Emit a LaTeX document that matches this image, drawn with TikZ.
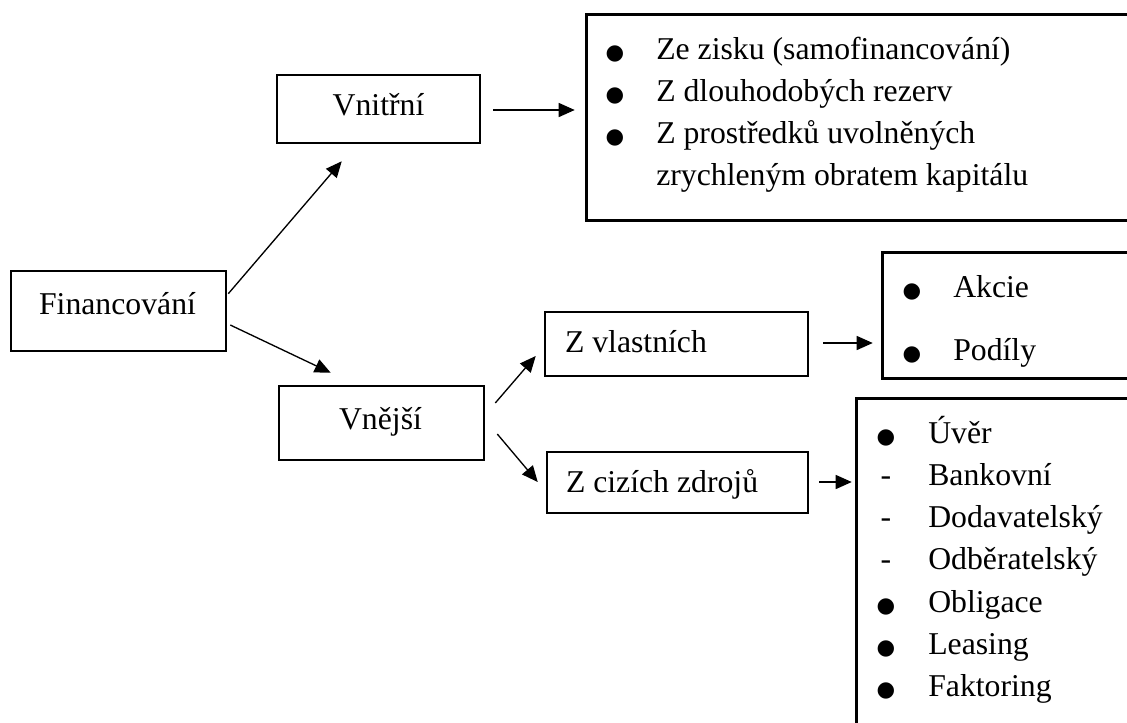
\documentclass[tikz,border=0pt]{standalone}
\usepackage{fontspec}
\setmainfont{Liberation Serif}
\newfontfamily\dvsans{DejaVu Sans}
\usetikzlibrary{arrows.meta}
\newlength\px \setlength\px{0.75pt}
\begin{document}
\begin{tikzpicture}[x=0.75pt,y=-0.75pt,
  box/.style={draw, line width=1.9pt, rectangle, inner sep=0pt},
  openbox/.style={rectangle, inner sep=0pt},
  openline/.style={line width=1.9pt},
  lbl/.style={inner sep=0pt, font=\fontsize{23.8pt}{28pt}\selectfont},
  bul/.style={inner sep=0pt, anchor=base, font=\dvsans\fontsize{16pt}{18pt}\selectfont},
  arr/.style={line width=1pt, -{Triangle[length=12pt,width=10.5pt]}},
]
\useasboundingbox (0,0) rectangle (1127,722);

% main boxes
\node[box, minimum width=215\px, minimum height=80\px] (fin) at (118.5,311) {};
\node[box, minimum width=203\px, minimum height=68\px] (vnitrni) at (378.5,109) {};
\node[box, minimum width=205\px, minimum height=74\px] (vnejsi) at (381.5,423) {};
\node[box, minimum width=263\px, minimum height=64\px] (vlastni) at (676.5,344) {};
\node[box, minimum width=261\px, minimum height=61\px] (cizi) at (677.5,482.5) {};

% open boxes on the right
\node[openbox, minimum width=545\px, minimum height=205\px] (listA) at (859.5,117.5) {};
\node[openbox, minimum width=249\px, minimum height=125\px] (listB) at (1007.5,315.5) {};
\node[openbox, minimum width=275\px, minimum height=331\px] (listC) at (994.5,564.5) {};
\draw[openline] (listA.north east) -- (listA.north west) -- (listA.south west) -- (listA.south east);
\draw[openline] (listB.north east) -- (listB.north west) -- (listB.south west) -- (listB.south east);
\draw[openline] (listC.north east) -- (listC.north west) -- (listC.south west);

% box labels
\node[lbl, anchor=base] (finT) at ([shift={(-1,3)}]fin.center) {Financování};
\node[lbl, anchor=base] (vnitrniT) at ([shift={(0,6)}]vnitrni.center) {Vnitřní};
\node[lbl, anchor=base] (vnejsiT) at ([shift={(-1,6)}]vnejsi.center) {Vnější};
\node[lbl, anchor=base west] (vlastniT) at ([shift={(21,8)}]vlastni.west) {Z vlastních};
\node[lbl, anchor=base west] (ciziT) at ([shift={(20,9.5)}]cizi.west) {Z cizích zdrojů};

% list A
\node[bul] (a1b) at (615,59) {●};
\node[lbl, anchor=base west] (a1) at (656,59) {Ze zisku (samofinancování)};
\node[bul] (a2b) at (615,101) {●};
\node[lbl, anchor=base west] (a2) at (656,101) {Z dlouhodobých rezerv};
\node[bul] (a3b) at (615,143) {●};
\node[lbl, anchor=base west] (a3) at (656,143) {Z prostředků uvolněných};
\node[lbl, anchor=base west] (a4) at (656,185) {zrychleným obratem kapitálu};

% list B
\node[bul] (b1b) at (912,297) {●};
\node[lbl, anchor=base west] (b1) at (953,297) {Akcie};
\node[bul] (b2b) at (912,360) {●};
\node[lbl, anchor=base west] (b2) at (953,360) {Podíly};

% list C
\node[bul] (c1b) at (886,443) {●};
\node[lbl, anchor=base west] (c1) at (928,443) {Úvěr};
\node[lbl, anchor=base] (c2b) at (886,485.3) {-};
\node[lbl, anchor=base west] (c2) at (928,485.3) {Bankovní};
\node[lbl, anchor=base] (c3b) at (886,527.6) {-};
\node[lbl, anchor=base west] (c3) at (928,527.6) {Dodavatelský};
\node[lbl, anchor=base] (c4b) at (886,569.9) {-};
\node[lbl, anchor=base west] (c4) at (928,569.9) {Odběratelský};
\node[bul] (c5b) at (886,612.2) {●};
\node[lbl, anchor=base west] (c5) at (928,612.2) {Obligace};
\node[bul] (c6b) at (886,654.5) {●};
\node[lbl, anchor=base west] (c6) at (928,654.5) {Leasing};
\node[bul] (c7b) at (886,696.8) {●};
\node[lbl, anchor=base west] (c7) at (928,696.8) {Faktoring};

% connectors
\draw[arr] ([shift={(1,24)}]fin.north east) -- ([shift={(66,17)}]vnitrni.south west);
\draw[arr] ([shift={(3,14)}]fin.east) -- ([shift={(53,-12)}]vnejsi.north west);
\draw[arr] ([shift={(12,1)}]vnitrni.east) -- ([shift={(-12,-7.5)}]listA.west);
\draw[arr] ([shift={(10,-20)}]vnejsi.east) -- ([shift={(-8,12)}]vlastni.west);
\draw[arr] ([shift={(12,11)}]vnejsi.east) -- ([shift={(-8,-0.5)}]cizi.west);
\draw[arr] ([shift={(14,-1)}]vlastni.east) -- ([shift={(-10,27.5)}]listB.west);
\draw[arr] ([shift={(10,-0.5)}]cizi.east) -- ([shift={(-5,-82.5)}]listC.west);
\end{tikzpicture}
\end{document}
